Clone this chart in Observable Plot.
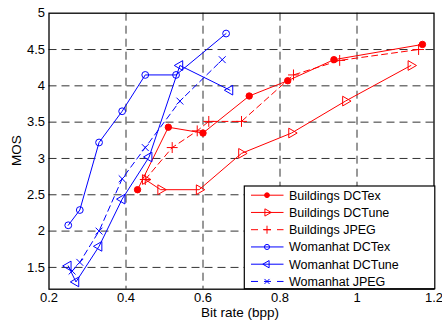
<!DOCTYPE html>
<html><head><meta charset="utf-8">
<script src="https://cdn.jsdelivr.net/npm/d3@7"></script>
<script src="https://cdn.jsdelivr.net/npm/@observablehq/plot@0.6"></script>
<style>body{margin:0;background:#fff} svg{display:block}</style>
</head><body><div id="chart"></div>
<script>
const xTicks = [0.2, 0.4, 0.6, 0.8, 1, 1.2];
const yTicks = [1.5, 2, 2.5, 3, 3.5, 4, 4.5, 5];
const xLabel = "Bit rate (bpp)";
const yLabel = "MOS";

const seriesNames = ["Buildings DCTex", "Buildings DCTune", "Buildings JPEG", "Womanhat DCTex", "Womanhat DCTune", "Womanhat JPEG"];

const bDCTexX  = [0.43, 0.51, 0.60, 0.72, 0.82, 0.94, 1.17];
const bDCTexY  = [2.57, 3.43, 3.35, 3.86, 4.07, 4.36, 4.57];
const bDCTuneX = [0.45, 0.49, 0.59, 0.70, 0.83, 0.97, 1.14];
const bDCTuneY = [2.71, 2.57, 2.57, 3.07, 3.35, 3.79, 4.28];
const bJpegX   = [0.45, 0.52, 0.585, 0.615, 0.70, 0.835, 0.955, 1.16];
const bJpegY   = [2.71, 3.15, 3.38, 3.51, 3.51, 4.15, 4.35, 4.50];
const wDCTexX  = [0.25, 0.28, 0.33, 0.39, 0.45, 0.53, 0.66];
const wDCTexY  = [2.08, 2.29, 3.22, 3.65, 4.15, 4.15, 4.72];
const wDCTuneX = [0.25, 0.27, 0.33, 0.39, 0.46, 0.54, 0.67];
const wDCTuneY = [1.52, 1.30, 1.79, 2.44, 3.02, 4.28, 3.94];
const wJpegX   = [0.26, 0.28, 0.33, 0.39, 0.45, 0.54, 0.65];
const wJpegY   = [1.45, 1.57, 2.00, 2.72, 3.15, 3.79, 4.36];

const RED = "#ff0000", BLUE = "#0000ff";
const styles = [
  {xs: bDCTexX,  ys: bDCTexY,  color: RED,  symbol: "circle",   rotate: 0,   fill: RED,    dash: null, r: 3.2},
  {xs: bDCTuneX, ys: bDCTuneY, color: RED,  symbol: "triangle", rotate: 90,  fill: "none", dash: null, r: 3.6},
  {xs: bJpegX,   ys: bJpegY,   color: RED,  symbol: "plus",     rotate: 0,   fill: "none", dash: "6,4", r: 3.6},
  {xs: wDCTexX,  ys: wDCTexY,  color: BLUE, symbol: "circle",   rotate: 0,   fill: "none", dash: null, r: 3.4},
  {xs: wDCTuneX, ys: wDCTuneY, color: BLUE, symbol: "triangle", rotate: -90, fill: "none", dash: null, r: 3.6},
  {xs: wJpegX,   ys: wJpegY,   color: BLUE, symbol: "times",    rotate: 0,   fill: "none", dash: "6,4", r: 3.2}
];

const W = 442, H = 323;
const mL = 48.5, mR = 8.5, mT = 12.7, mB = 34.3;
const font = "'Liberation Sans', Arial, sans-serif";
const fmt = d => String(d);

const marks = [];
const gridX = xTicks.slice(1, -1), gridY = yTicks.slice(0, -1);
marks.push(Plot.ruleX(gridX, {stroke: "#333", strokeWidth: 1, strokeDasharray: "8,5"}));
marks.push(Plot.ruleY(gridY, {stroke: "#333", strokeWidth: 1, strokeDasharray: "8,5"}));
styles.forEach((s, i) => {
  const pts = s.xs.map((x, j) => ({x, y: s.ys[j], name: seriesNames[i]}));
  marks.push(Plot.line(pts, {x: "x", y: "y", stroke: s.color, strokeWidth: 1, strokeDasharray: s.dash || undefined}));
  marks.push(Plot.dot(pts, {x: "x", y: "y", symbol: s.symbol, rotate: s.rotate, r: s.r, stroke: s.color, fill: s.fill, strokeWidth: 1}));
});
marks.push(Plot.frame({stroke: "black", strokeWidth: 1.3}));
marks.push(Plot.axisX(xTicks, {tickSize: 0, tickPadding: 4, label: null, fontSize: 13, tickFormat: fmt}));
marks.push(Plot.axisY(yTicks, {tickSize: 0, tickPadding: 4, label: null, fontSize: 13, tickFormat: fmt}));

const chart = Plot.plot({
  width: W, height: H,
  marginLeft: mL, marginRight: mR, marginTop: mT, marginBottom: mB,
  x: {domain: [0.2, 1.2]},
  y: {domain: [1.2, 5]},
  style: {fontFamily: font, fontSize: "13px", background: "white", color: "black", overflow: "visible"},
  marks
});
document.getElementById("chart").appendChild(chart);

const svg = d3.select(chart);
// axis labels
svg.append("text").attr("x", 240).attr("y", 317).attr("text-anchor", "middle")
  .attr("font-family", font).attr("font-size", 13.5).attr("fill", "black").text(xLabel);
svg.append("text").attr("transform", "translate(20.5,150.7) rotate(-90)").attr("text-anchor", "middle")
  .attr("font-family", font).attr("font-size", 13.5).attr("fill", "black").text(yLabel);

// legend
const lg = svg.append("g").attr("text-anchor", "start");
lg.append("rect").attr("x", 244.3).attr("y", 186).attr("width", 190.5).attr("height", 102.7)
  .attr("fill", "white").attr("stroke", "black").attr("stroke-width", 1.2);
const symMap = {circle: d3.symbolCircle, triangle: d3.symbolTriangle, plus: d3.symbolPlus, times: d3.symbolTimes};
styles.forEach((s, i) => {
  const cy = 195.2 + i * 17.25;
  lg.append("line").attr("x1", 251).attr("x2", 283.5).attr("y1", cy).attr("y2", cy)
    .attr("stroke", s.color).attr("stroke-width", 1).attr("stroke-dasharray", s.dash ? "7,6" : null);
  const rr = s.r * 0.75;
  lg.append("path").attr("d", d3.symbol(symMap[s.symbol], Math.PI * rr * rr)())
    .attr("transform", `translate(267,${cy}) rotate(${s.rotate})`)
    .attr("fill", s.fill).attr("stroke", s.color).attr("stroke-width", 1);
  lg.append("text").attr("x", 289).attr("y", cy).attr("dy", "0.36em").attr("text-anchor", "start")
    .attr("font-family", font).attr("font-size", 12.5).attr("fill", "black").text(seriesNames[i]);
});
</script>
</body></html>
